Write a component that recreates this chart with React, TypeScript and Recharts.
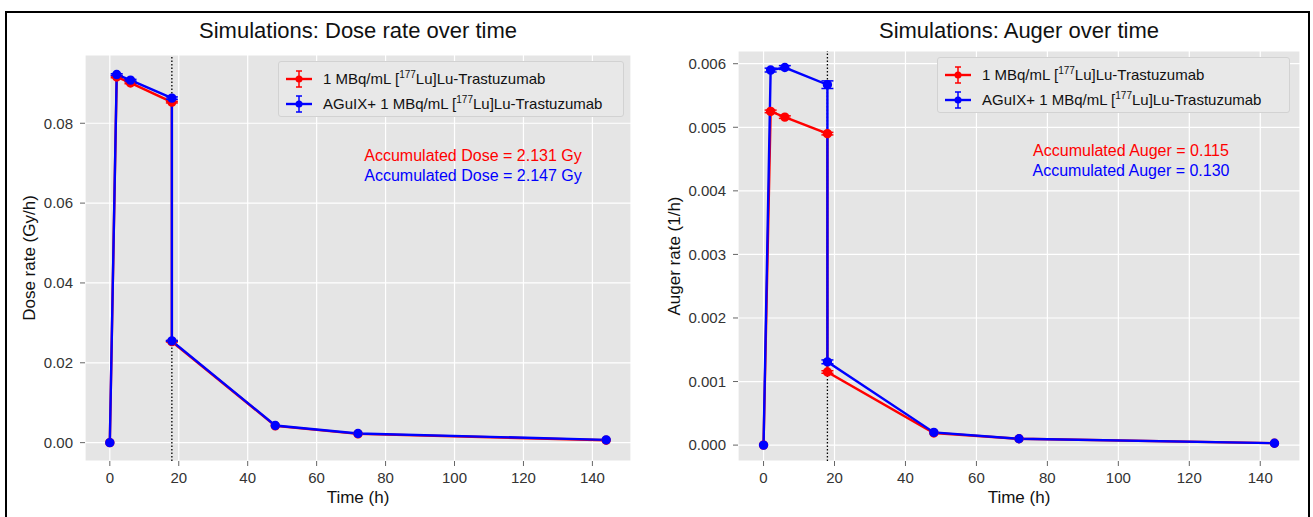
import React from "react";
import { LineChart, Line, XAxis, YAxis, CartesianGrid, ReferenceLine, ErrorBar } from "recharts";

// sampling times (h); 18 h appears twice for the drop after washing
const times = [0, 2, 6, 18, 18, 48, 72, 144];
const timeTicks = [0, 20, 40, 60, 80, 100, 120, 140];

const doseRed = [0, 0.0916, 0.0901, 0.0853, 0.0253, 0.0042, 0.0022, 0.0006];
const doseBlue = [0, 0.0922, 0.0908, 0.0863, 0.0255, 0.0043, 0.0023, 0.0007];
const doseRedErr = [0, 0.0002, 0.0002, 0.0002, 0.0001, 0, 0, 0];
const doseBlueErr = [0, 0.0002, 0.0002, 0.0003, 0.0001, 0, 0, 0];
const doseTicks = [0, 0.02, 0.04, 0.06, 0.08];

const augerRed = [0, 0.00525, 0.00516, 0.0049, 0.00115, 0.00019, 0.0001, 0.00003];
const augerBlue = [0, 0.0059, 0.00594, 0.00567, 0.00131, 0.0002, 0.0001, 0.00003];
const augerRedErr = [0, 0.00002, 0.00002, 0.00002, 0.00002, 0, 0, 0];
const augerBlueErr = [0, 0.00003, 0.00003, 0.00006, 0.00003, 0, 0, 0];
const augerTicks = [0, 0.001, 0.002, 0.003, 0.004, 0.005, 0.006];

const RED = "#ff0000";
const BLUE = "#0000ff";
const FONT = "'Liberation Sans', Arial, sans-serif";

function buildRows(red: number[], blue: number[], redErr: number[], blueErr: number[]) {
  return times.map((t, i) => ({ t, red: red[i], blue: blue[i], redErr: redErr[i], blueErr: blueErr[i] }));
}

const doseData = buildRows(doseRed, doseBlue, doseRedErr, doseBlueErr);
const augerData = buildRows(augerRed, augerBlue, augerRedErr, augerBlueErr);

function LegendGlyph({ color }: { color: string }) {
  return (
    <svg width={28} height={20} style={{ display: "block" }}>
      <line x1={1} y1={10} x2={27} y2={10} stroke={color} strokeWidth={2.4} />
      <line x1={14} y1={2} x2={14} y2={18} stroke={color} strokeWidth={1.5} />
      <line x1={11} y1={2} x2={17} y2={2} stroke={color} strokeWidth={1.5} />
      <line x1={11} y1={18} x2={17} y2={18} stroke={color} strokeWidth={1.5} />
      <circle cx={14} cy={10} r={3.5} fill={color} />
    </svg>
  );
}

function LegendBox({ left, top, width }: { left: number; top: number; width: number }) {
  const row = (color: string, prefix: string) => (
    <div style={{ display: "flex", alignItems: "center", height: 25 }}>
      <LegendGlyph color={color} />
      <span style={{ marginLeft: 10, whiteSpace: "nowrap" }}>
        {prefix}1 MBq/mL [<sup style={{ fontSize: 10, verticalAlign: "6px", lineHeight: 0 }}>177</sup>Lu]Lu-Trastuzumab
      </span>
    </div>
  );
  return (
    <div
      style={{
        position: "absolute",
        left,
        top,
        width,
        height: 56,
        boxSizing: "border-box",
        padding: "4px 6px",
        background: "#e8e8e8",
        border: "1px solid #d2d2d2",
        borderRadius: 3,
        fontSize: 15,
        color: "#111",
      }}
    >
      {row(RED, "")}
      {row(BLUE, "AGuIX+ ")}
    </div>
  );
}

type PanelProps = {
  left: number;
  width: number;
  margin: { top: number; right: number; bottom: number; left: number };
  data: ReturnType<typeof buildRows>;
  yDomain: [number, number];
  yTicks: number[];
  digits: number;
};

function Panel({ left, width, margin, data, yDomain, yTicks, digits }: PanelProps) {
  return (
    <div style={{ position: "absolute", left, top: 0 }}>
      <LineChart width={width} height={517} data={data} margin={margin}>
        <CartesianGrid fill="#e5e5e5" stroke="#ffffff" strokeWidth={1.2} />
        <XAxis
          dataKey="t"
          type="number"
          domain={[-7.2, 151.2]}
          ticks={timeTicks}
          allowDataOverflow
          height={30}
          axisLine={false}
          tickLine={{ stroke: "#666" }}
          tickSize={5}
          tickMargin={6}
          tick={{ fill: "#333", fontSize: 15 }}
        />
        <YAxis
          type="number"
          domain={yDomain}
          ticks={yTicks}
          allowDataOverflow
          width={60}
          axisLine={false}
          tickLine={{ stroke: "#666" }}
          tickSize={5}
          tickMargin={7}
          tick={{ fill: "#333", fontSize: 15 }}
          tickFormatter={(v: number) => v.toFixed(digits)}
        />
        <ReferenceLine x={18} stroke="#000" strokeDasharray="1.5 2" strokeWidth={1.3} />
        <Line
          type="linear"
          dataKey="red"
          stroke={RED}
          strokeWidth={2.4}
          dot={{ r: 3.5, fill: RED, stroke: RED }}
          isAnimationActive={false}
        >
          <ErrorBar dataKey="redErr" width={6} stroke={RED} strokeWidth={1.5} />
        </Line>
        <Line
          type="linear"
          dataKey="blue"
          stroke={BLUE}
          strokeWidth={2.4}
          dot={{ r: 3.5, fill: BLUE, stroke: BLUE }}
          isAnimationActive={false}
        >
          <ErrorBar dataKey="blueErr" width={6} stroke={BLUE} strokeWidth={1.5} />
        </Line>
      </LineChart>
    </div>
  );
}

const abs = (x: number, y: number, extra: React.CSSProperties = {}): React.CSSProperties => ({
  position: "absolute",
  left: x,
  top: y,
  whiteSpace: "nowrap",
  ...extra,
});

export default function App() {
  return (
    <div style={{ position: "absolute", left: 0, top: 0, width: 1313, height: 517, background: "#fff", overflow: "hidden", fontFamily: FONT }}>
      <div style={{ position: "absolute", left: 5, top: 11, width: 1301, height: 540, border: "2px solid #000" }} />

      <Panel
        left={0}
        width={660}
        margin={{ top: 55, right: 29, bottom: 26, left: 25 }}
        data={doseData}
        yDomain={[-0.0046, 0.0971]}
        yTicks={doseTicks}
        digits={2}
      />
      <Panel
        left={656}
        width={657}
        margin={{ top: 51, right: 13, bottom: 26, left: 22 }}
        data={augerData}
        yDomain={[-0.00025, 0.0062]}
        yTicks={augerTicks}
        digits={3}
      />

      {/* titles */}
      <div style={abs(358, 31, { transform: "translate(-50%,-50%)", fontSize: 22, color: "#111" })}>Simulations: Dose rate over time</div>
      <div style={abs(1019, 31, { transform: "translate(-50%,-50%)", fontSize: 22, color: "#111" })}>Simulations: Auger over time</div>

      {/* axis labels */}
      <div style={abs(358, 498, { transform: "translate(-50%,-50%)", fontSize: 17, color: "#111" })}>Time (h)</div>
      <div style={abs(1019, 498, { transform: "translate(-50%,-50%)", fontSize: 17, color: "#111" })}>Time (h)</div>
      <div style={abs(30, 258, { transform: "translate(-50%,-50%) rotate(-90deg)", fontSize: 17, color: "#111" })}>Dose rate (Gy/h)</div>
      <div style={abs(675, 256, { transform: "translate(-50%,-50%) rotate(-90deg)", fontSize: 17, color: "#111" })}>Auger rate (1/h)</div>

      {/* legends */}
      <LegendBox left={278} top={61} width={346} />
      <LegendBox left={937} top={57} width={353} />

      {/* accumulated values */}
      <div style={abs(473, 156, { transform: "translate(-50%,-50%)", fontSize: 16, color: RED })}>Accumulated Dose = 2.131 Gy</div>
      <div style={abs(473, 176, { transform: "translate(-50%,-50%)", fontSize: 16, color: BLUE })}>Accumulated Dose = 2.147 Gy</div>
      <div style={abs(1131, 151, { transform: "translate(-50%,-50%)", fontSize: 16, color: RED })}>Accumulated Auger = 0.115</div>
      <div style={abs(1131, 171, { transform: "translate(-50%,-50%)", fontSize: 16, color: BLUE })}>Accumulated Auger = 0.130</div>
    </div>
  );
}
